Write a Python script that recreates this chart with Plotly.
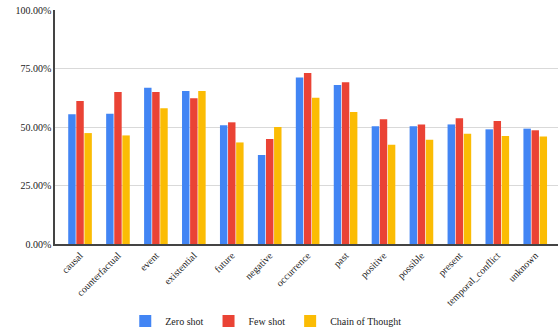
import plotly.graph_objects as go

categories = ["causal", "counterfactual", "event", "existential", "future", "negative",
              "occurrence", "past", "positive", "possible", "present",
              "temporal_conflict", "unknown"]
zero_shot = [55.4, 55.7, 66.8, 65.4, 50.7, 38.0, 71.2, 67.9, 50.3, 50.3, 51.1, 49.0, 49.3]
few_shot = [61.1, 65.0, 65.0, 62.3, 52.0, 44.9, 73.1, 69.1, 53.3, 51.1, 53.7, 52.6, 48.6]
cot = [47.4, 46.4, 58.0, 65.4, 43.4, 50.0, 62.5, 56.4, 42.4, 44.6, 47.1, 46.2, 45.9]
series_names = ["Zero shot", "Few shot", "Chain of Thought"]
colors = ["#4285F4", "#EA4335", "#FBBC04"]
y_ticks = [0, 25, 50, 75, 100]

fig = go.Figure()
for name, vals, c in zip(series_names, [zero_shot, few_shot, cot], colors):
    fig.add_trace(go.Bar(x=categories, y=[v / 100 for v in vals], name=name,
                         marker=dict(color=c, line=dict(width=0))))

font = "Liberation Serif, Times New Roman, serif"
fig.update_layout(
    width=559, height=332,
    margin=dict(l=55, r=1, t=10, b=88, autoexpand=False),
    paper_bgcolor="white", plot_bgcolor="white",
    barmode="group", bargap=0.36, bargroupgap=0.08,
    font=dict(family=font, size=10, color="#222222"),
    showlegend=True,
    legend=dict(orientation="h", x=0.42, xanchor="center", y=-0.329, yanchor="middle",
                font=dict(family=font, size=10, color="#222222"), itemwidth=30,
                tracegroupgap=0),
    xaxis=dict(tickangle=-45, showline=True, linecolor="#444444", linewidth=1.5,
               showgrid=False, ticks="", range=[-0.66, 12.6], automargin=False,
               tickfont=dict(family=font, size=10, color="#222222")),
    yaxis=dict(range=[0, 1], tickvals=[t / 100 for t in y_ticks], tickformat=".2%",
               showgrid=True, gridcolor="#d9d9d9", gridwidth=1, automargin=False,
               showline=True, linecolor="#444444", linewidth=1.5,
               zeroline=False, ticks="", ticklen=0,
               tickfont=dict(family=font, size=10, color="#222222")),
)
fig.write_html("out.html")
